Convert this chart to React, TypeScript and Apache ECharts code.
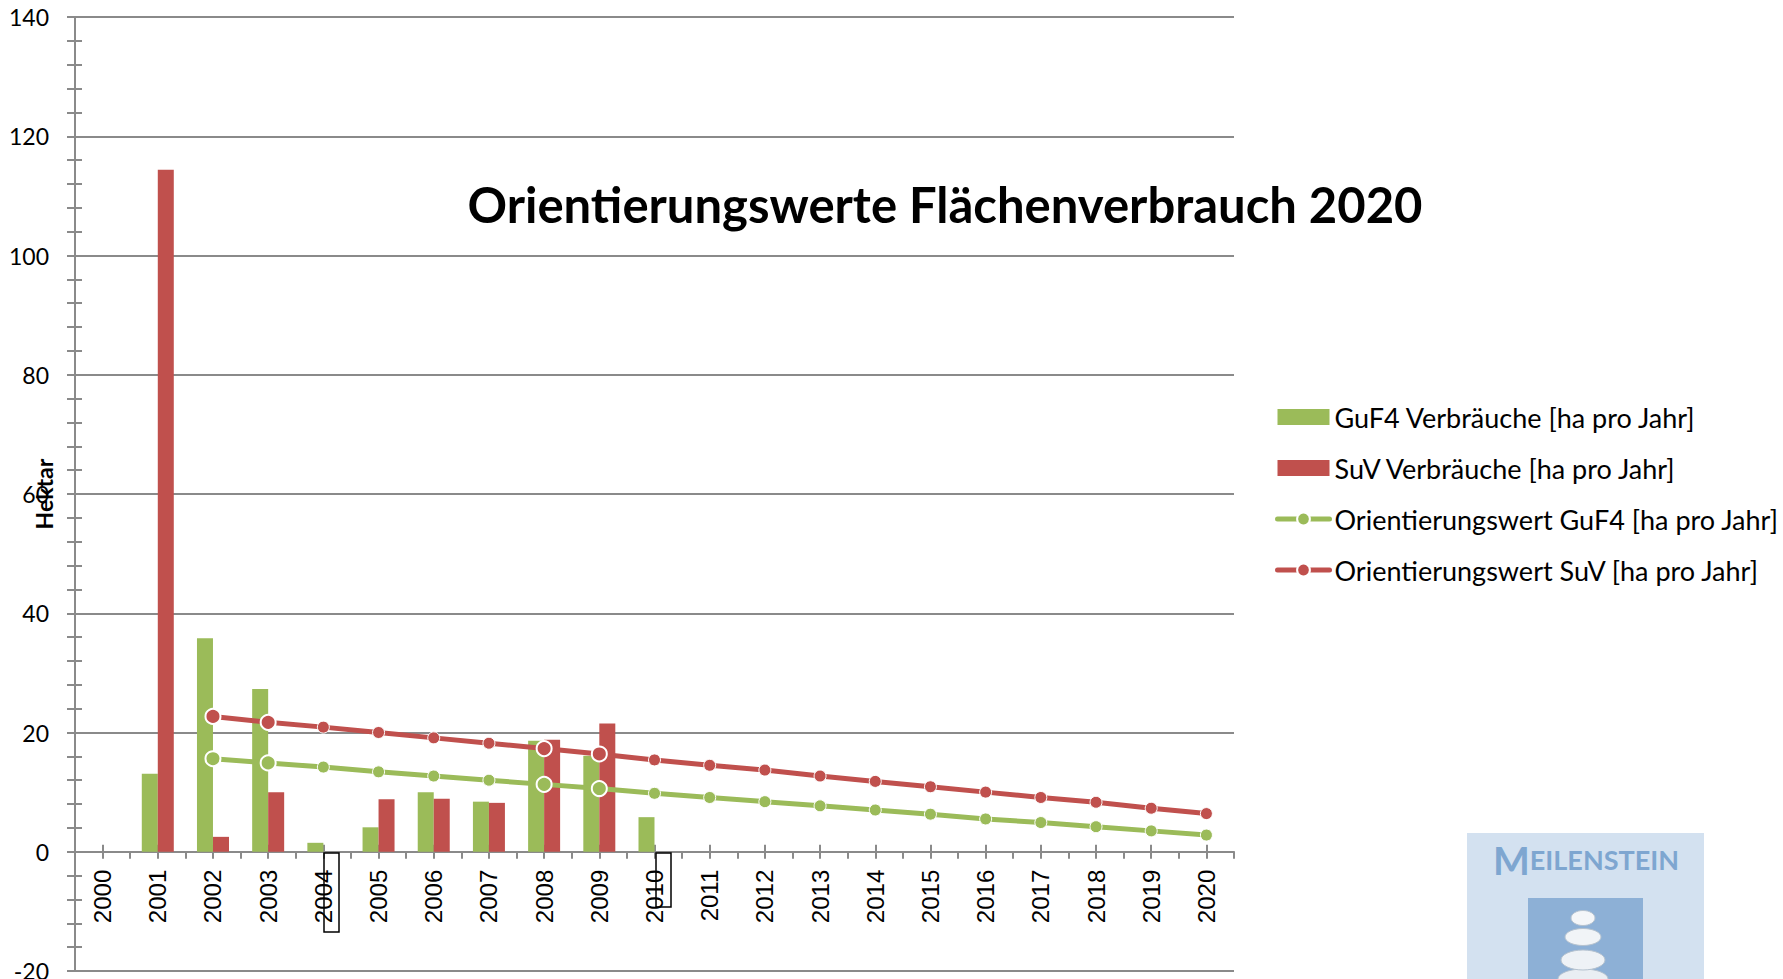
import React, { useEffect, useRef } from "react";
import * as echarts from "echarts";

const years = [
  "2000", "2001", "2002", "2003", "2004", "2005", "2006", "2007", "2008", "2009", "2010",
  "2011", "2012", "2013", "2014", "2015", "2016", "2017", "2018", "2019", "2020",
];
const guf4Consumption = [null, 13.1, 35.8, 27.3, 1.5, 4.1, 10.0, 8.4, 18.6, 16.1, 5.8, null, null, null, null, null, null, null, null, null, null];
const suvConsumption = [null, 114.4, 2.5, 10.0, null, 8.8, 8.9, 8.2, 18.8, 21.5, null, null, null, null, null, null, null, null, null, null, null];
const guf4Target = [null, null, 15.6, 14.9, 14.2, 13.4, 12.7, 12.0, 11.3, 10.6, 9.8, 9.1, 8.4, 7.7, 7.0, 6.3, 5.5, 4.9, 4.2, 3.5, 2.8];
const suvTarget = [null, null, 22.7, 21.7, 20.9, 20.0, 19.1, 18.2, 17.3, 16.4, 15.4, 14.5, 13.7, 12.7, 11.8, 10.9, 10.0, 9.1, 8.3, 7.3, 6.4];
const highlightedYears = ["2002", "2003", "2008", "2009"];

const seriesNames = [
  "GuF4 Verbräuche [ha pro Jahr]",
  "SuV Verbräuche [ha pro Jahr]",
  "Orientierungswert GuF4 [ha pro Jahr]",
  "Orientierungswert SuV [ha pro Jahr]",
];
const titleText = "Orientierungswerte Flächenverbrauch 2020";
const yAxisName = "Hektar";
const yMin = -20;
const yMax = 140;
const yStep = 20;

const GREEN = "#9bbb59";
const RED = "#c0504d";
const GRAY = "#8a8a8a";
const CAL = "Lato, 'Open Sans', sans-serif";

function markerData(values: (number | null)[]) {
  return values.map((v, i) =>
    highlightedYears.includes(years[i]) && v != null
      ? { value: v, symbolSize: 15, itemStyle: { borderWidth: 2 } }
      : v
  );
}

export default function App() {
  const ref = useRef<HTMLDivElement>(null);
  useEffect(() => {
    if (!ref.current) return;
    const chart = echarts.init(ref.current, undefined, { renderer: "svg" });
    const lineSeries = (name: string, data: (number | null)[], color: string) => ({
      name,
      type: "line",
      xAxisIndex: 0,
      yAxisIndex: 0,
      data: markerData(data),
      symbol: "circle",
      symbolSize: 12,
      showSymbol: true,
      connectNulls: false,
      z: 5,
      lineStyle: { color, width: 5 },
      itemStyle: { color, borderColor: "#ffffff", borderWidth: 1 },
    });
    const tickStyle = { color: GRAY, width: 2 };
    const gridTop = 17;
    const gridBottomY = 979 - 8;
    const zeroY = gridTop + ((gridBottomY - gridTop) * (yMax - 0)) / (yMax - yMin);
    const tickAxis = (extra: any) => ({
      type: "category",
      data: years,
      position: "bottom",
      boundaryGap: true,
      axisLine: { show: false, onZero: true, onZeroAxisIndex: 0 },
      axisLabel: { show: false },
      splitLine: { show: false },
      ...extra,
    });
    chart.setOption({
      animation: false,
      backgroundColor: "#ffffff",
      grid: { left: 75, right: 549, top: gridTop, bottom: 8, containLabel: false, outerBoundsMode: "none" },
      legend: {
        orient: "vertical",
        left: 1270,
        top: 396,
        padding: 5,
        itemWidth: 52,
        itemHeight: 16,
        itemGap: 19,
        selectedMode: false,
        lineStyle: { width: 5, cap: "round" },
        textStyle: { fontFamily: CAL, fontSize: 27, color: "#000", lineHeight: 32 },
        data: [
          { name: seriesNames[0], icon: "rect" },
          { name: seriesNames[1], icon: "rect" },
          { name: seriesNames[2] },
          { name: seriesNames[3] },
        ],
      },
      xAxis: [
        {
          type: "category",
          data: years,
          position: "bottom",
          boundaryGap: true,
          axisLine: { show: false, onZero: false },
          axisTick: { show: false },
          axisLabel: {
            interval: 0,
            rotate: 90,
            margin: -(gridBottomY - zeroY) + 18,
            color: "#000",
            fontFamily: "'Liberation Sans', Arial, sans-serif",
            fontSize: 24,
          },
          splitLine: { show: false },
        },
        tickAxis({
          axisLine: { show: true, onZero: true, onZeroAxisIndex: 0, lineStyle: { color: GRAY, width: 2 } },
          axisTick: { show: true, interval: 0, length: 7, lineStyle: tickStyle },
        }),
        tickAxis({
          axisTick: { show: true, alignWithLabel: true, interval: 0, length: 7, lineStyle: tickStyle },
        }),
        tickAxis({
          axisTick: { show: true, inside: true, alignWithLabel: true, interval: 0, length: 7, lineStyle: tickStyle },
        }),
      ],
      yAxis: [
        {
          type: "value",
          min: yMin,
          max: yMax,
          interval: yStep,
          position: "left",
          name: yAxisName,
          nameLocation: "middle",
          nameRotate: 90,
          nameGap: 20,
          nameMoveOverlap: false,
          nameTextStyle: { fontFamily: CAL, fontSize: 23, fontWeight: "bold", color: "#000" },
          axisLine: { show: true, onZero: false, lineStyle: { color: GRAY, width: 2 } },
          axisTick: { show: true, length: 8, lineStyle: tickStyle },
          minorTick: { show: true, splitNumber: 5, length: 8, lineStyle: tickStyle },
          axisLabel: { margin: 26, color: "#000", fontFamily: CAL, fontSize: 23 },
          splitLine: { show: true, lineStyle: { color: GRAY, width: 2 } },
        },
        {
          type: "value",
          min: yMin,
          max: yMax,
          interval: yStep,
          position: "left",
          axisLine: { show: false, onZero: false },
          axisTick: { show: true, inside: true, length: 7, lineStyle: tickStyle },
          minorTick: { show: true, splitNumber: 5, length: 7, lineStyle: tickStyle },
          axisLabel: { show: false },
          splitLine: { show: false },
        },
      ],
      series: [
        {
          name: seriesNames[0],
          type: "bar",
          data: guf4Consumption,
          barWidth: 16,
          barGap: "0%",
          itemStyle: { color: GREEN },
        },
        {
          name: seriesNames[1],
          type: "bar",
          data: suvConsumption,
          barWidth: 16,
          barGap: "0%",
          itemStyle: { color: RED },
        },
        lineSeries(seriesNames[2], guf4Target, GREEN),
        lineSeries(seriesNames[3], suvTarget, RED),
      ],
      graphic: [
        {
          type: "text",
          x: 945,
          y: 204,
          z: 10,
          style: {
            text: titleText,
            fontFamily: CAL,
            fontSize: 49,
            fontWeight: "bold",
            fill: "#000",
            align: "center",
            verticalAlign: "middle",
          },
        },
        {
          type: "rect",
          z: 10,
          shape: { x: 324, y: 853, width: 15, height: 79 },
          style: { fill: "none", stroke: "#000", lineWidth: 1.5 },
        },
        {
          type: "rect",
          z: 10,
          shape: { x: 656, y: 853, width: 15, height: 54 },
          style: { fill: "none", stroke: "#000", lineWidth: 1.5 },
        },
        {
          type: "group",
          z: 10,
          children: [
            { type: "rect", shape: { x: 1467, y: 833, width: 237, height: 150 }, style: { fill: "#d3e1f0" } },
            {
              type: "text",
              x: 1586,
              y: 879,
              style: {
                text: "{a|M}{b|EILENSTEIN}",
                align: "center",
                verticalAlign: "bottom",
                rich: {
                  a: { fontFamily: CAL, fontWeight: "bold", fontSize: 39, fill: "#7ea6d0" },
                  b: { fontFamily: CAL, fontWeight: "bold", fontSize: 27, fill: "#7ea6d0" },
                },
              },
            },
            { type: "rect", shape: { x: 1528, y: 898, width: 115, height: 85 }, style: { fill: "#8db0d6" } },
            { type: "ellipse", shape: { cx: 1583, cy: 979, rx: 25, ry: 10 }, style: { fill: "#e9eef3", stroke: "#b5c2cf", lineWidth: 1 } },
            { type: "ellipse", shape: { cx: 1583, cy: 960, rx: 22, ry: 10 }, style: { fill: "#eef2f6", stroke: "#b5c2cf", lineWidth: 1 } },
            { type: "ellipse", shape: { cx: 1583, cy: 937, rx: 18, ry: 8.5 }, style: { fill: "#f1f4f7", stroke: "#b5c2cf", lineWidth: 1 } },
            { type: "ellipse", shape: { cx: 1583, cy: 918, rx: 12, ry: 7.5 }, style: { fill: "#f4f6f9", stroke: "#b5c2cf", lineWidth: 1 } },
          ],
        },
      ],
    });
    return () => chart.dispose();
  }, []);
  return (
    <div
      ref={ref}
      style={{ position: "fixed", left: 0, top: 0, width: 1783, height: 979, background: "#fff" }}
    />
  );
}
